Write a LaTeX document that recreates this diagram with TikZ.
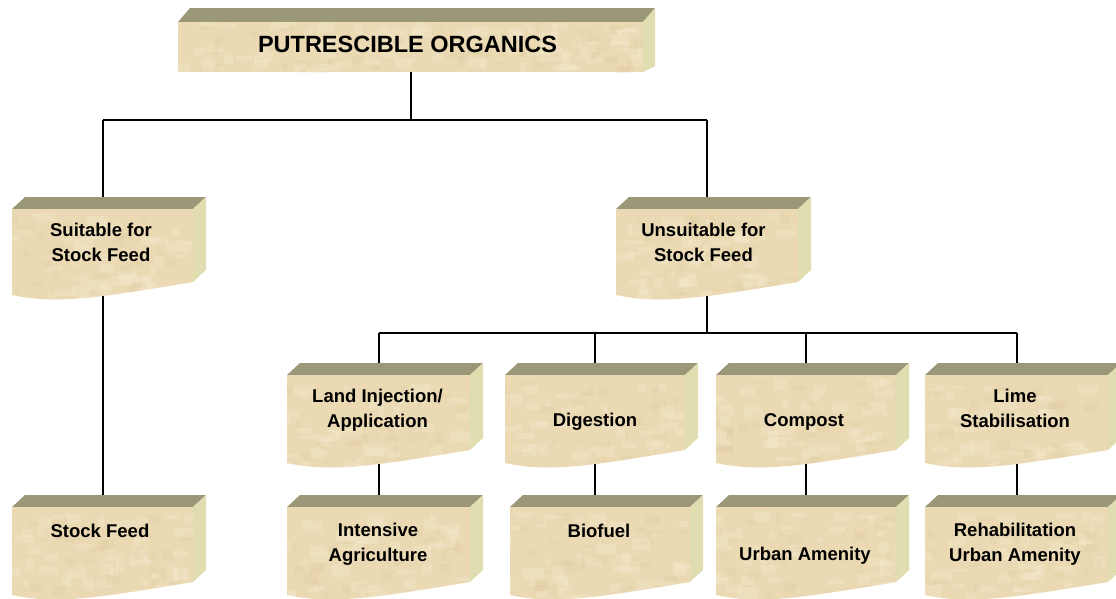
\documentclass[tikz,border=0pt]{standalone}
\usepackage{fontspec}
\setmainfont{Liberation Sans}
\usetikzlibrary{calc}
\pgfdeclarelayer{bg}
\pgfsetlayers{bg,main}
\definecolor{crateTop}{HTML}{9A9878}
\definecolor{crateSide}{HTML}{E0DDB0}
\definecolor{crateFront}{HTML}{EAD9B3}
\definecolor{grainLight}{HTML}{F4E8CB}
\definecolor{grainDark}{HTML}{DCC79A}
\tikzset{
  link/.style={line width=1.8pt, black},
  frontbox/.style={draw=none, inner sep=0pt, anchor=north west},
  lbl/.style={font=\bfseries\fontsize{18.5}{24.5}\selectfont, align=center,
    text height=13.3pt, text depth=0pt, inner sep=0pt},
  headlbl/.style={font=\bfseries\fontsize{23.5}{28}\selectfont,
    text height=17pt, text depth=0pt, inner sep=0pt},
  grainA/.style={fill=grainLight, opacity=0.4},
  grainB/.style={fill=grainDark, opacity=0.18},
}
\pgfmathsetseed{4711}
% mottled grain over the area currently clipped; #1 left, #2 top, #3 width, #4 height
\newcommand\grain[4]{%
  \foreach \k in {1,...,45}{
    \pgfmathsetmacro\gx{#1+rnd*#3-8}
    \pgfmathsetmacro\gy{#2+rnd*#4-4}
    \pgfmathsetmacro\gw{5+rnd*16}
    \pgfmathsetmacro\gh{3+rnd*9}
    \fill[grainA] (\gx,\gy) rectangle ++(\gw,\gh);
  }
  \foreach \k in {1,...,30}{
    \pgfmathsetmacro\gx{#1+rnd*#3-8}
    \pgfmathsetmacro\gy{#2+rnd*#4-4}
    \pgfmathsetmacro\gw{4+rnd*12}
    \pgfmathsetmacro\gh{3+rnd*7}
    \fill[grainB] (\gx,\gy) rectangle ++(\gw,\gh);
  }
}
% #1 name, #2 left, #3 top, #4 width, #5 height at left, #6 height at right
\newcommand\crate[6]{%
  \fill[crateTop] (#2,#3) -- ++(13,-12) -- ++(#4,0) -- ++(-13,12) -- cycle;
  \fill[crateSide] (#2+#4,#3) -- ++(13,-12) -- ++(0,#6) -- ++(-13,12) -- cycle;
  \begin{scope}
    \path[clip] (#2,#3) -- ++(#4,0) -- ++(0,#6)
      .. controls (#2+0.5*#4,#3+#5+2) and (#2+0.25*#4,#3+#5+10) .. (#2,#3+#5) -- cycle;
    \fill[crateFront] (#2,#3) rectangle ++(#4,#5+12);
    \grain{#2}{#3}{#4}{#5+8}
  \end{scope}
  \node[frontbox, minimum width=#4pt, minimum height=#5pt] (#1) at (#2,#3) {};
}
\begin{document}
\begin{tikzpicture}[x=1pt, y=-1pt]
\useasboundingbox (0,0) rectangle (1116,598);

% heading slab
\fill[crateTop] (178,22) -- (190,8) -- (655,8) -- (643,22) -- cycle;
\fill[crateSide] (643,22) -- (655,8) -- (655,66) -- (643,72) -- cycle;
\begin{scope}
  \clip (178,22) rectangle (643,72);
  \fill[crateFront] (178,22) rectangle (643,72);
  \grain{178}{22}{465}{50}
  \grain{178}{22}{465}{50}
\end{scope}
\node[frontbox, minimum width=465pt, minimum height=50pt] (top) at (178,22) {};
\node[headlbl] (top-t) at (407.5,44) {PUTRESCIBLE ORGANICS};

% second level
\crate{suit}{12}{209}{181}{86}{73}
\node[lbl] (suit-t) at (101,254.5) {Suitable for\\Stock Feed};
\crate{unsuit}{616}{209}{182}{86}{73}
\node[lbl] (unsuit-t) at (703.5,254.5) {Unsuitable for\\Stock Feed};

% third level
\crate{land}{287}{375}{183}{88}{75}
\node[lbl] (land-t) at (377.5,420.5) {Land Injection/\\Application};
\crate{dig}{505}{375}{180}{88}{75}
\node[lbl] (dig-t) at (595,420) {Digestion};
\crate{comp}{716}{375}{180}{88}{75}
\node[lbl] (comp-t) at (804,420) {Compost};
\crate{lime}{925}{375}{183}{88}{75}
\node[lbl] (lime-t) at (1015,420.5) {Lime\\Stabilisation};

% fourth level
\crate{stock}{12}{507}{181}{88}{75}
\node[lbl] (stock-t) at (100,531) {Stock Feed};
\crate{intens}{287}{507}{183}{88}{75}
\node[lbl] (intens-t) at (378,554.5) {Intensive\\Agriculture};
\crate{bio}{510}{507}{180}{88}{75}
\node[lbl] (bio-t) at (599,531) {Biofuel};
\crate{urban}{716}{507}{180}{88}{75}
\node[lbl] (urban-t) at (805,553.5) {Urban Amenity};
\crate{rehab}{925}{507}{183}{88}{75}
\node[lbl] (rehab-t) at (1015,554.5) {Rehabilitation\\Urban Amenity};

% connectors, drawn behind the crates
\begin{pgfonlayer}{bg}
  \coordinate (busA) at (0,120);
  \coordinate (busB) at (0,333);
  \draw[link] (top.south) -- (top.south |- busA);
  \draw[link] (suit.north |- busA) -- (unsuit.north |- busA);
  \draw[link] (suit.north |- busA) -- (suit.north);
  \draw[link] (unsuit.north |- busA) -- (unsuit.north);
  \draw[link] (suit.south) -- (suit.south |- stock.north);
  \draw[link] (unsuit.south) -- (unsuit.south |- busB);
  \draw[link] (land.north |- busB) -- (lime.north |- busB);
  \foreach \up/\down in {land/intens, dig/bio, comp/urban, lime/rehab}{
    \draw[link] (\up.north |- busB) -- (\up.north);
    \draw[link] (\up.south) -- (\up.south |- \down.north);
  }
\end{pgfonlayer}
\end{tikzpicture}
\end{document}
